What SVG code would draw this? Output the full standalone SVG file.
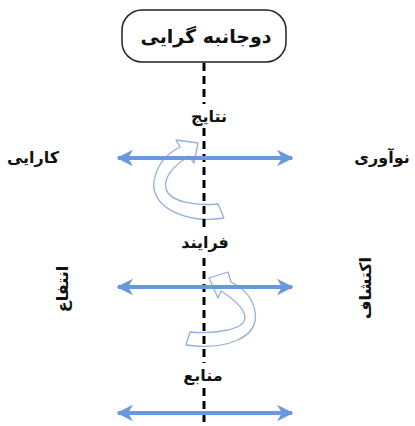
<svg xmlns="http://www.w3.org/2000/svg" width="415" height="426" viewBox="0 0 415 426">
<style>
.t{font-family:"DejaVu Sans",sans-serif;font-weight:bold;fill:#111;text-anchor:middle}
.h{stroke:#6a98de;stroke-width:4;fill:none}
.cv{fill:#fff;stroke:#93afdb;stroke-width:1.3;stroke-linejoin:round}
</style>
<defs>
<marker id="ah" viewBox="0 0 10 10" refX="9" refY="5" markerWidth="4.2" markerHeight="4.8" orient="auto-start-reverse" markerUnits="strokeWidth">
<path d="M0,0 L10,5 L0,10 L3,5 Z" fill="#6a98de"/>
</marker>
</defs>
<rect width="415" height="426" fill="#fff"/>
<g id="curved-arrows">
<path class="cv" d="M224,218 C188,224 150,208 154,181 C157,164 168,153 180,147 L176,140 L198,143 L194,163 L189,156 C175,165 163,177 166,189 C170,202 195,206 218,204 Z"/>
<path class="cv" d="M186,345 C222,350 260,340 255,311 C252,295 241,287 231,282 L228,272 L209,278 L218,298 L221,291 C232,298 245,308 245,318 C244,330 215,334 190,332 Z"/>
</g>
<g id="connectors">
<line x1="204" y1="63" x2="204" y2="422" stroke="#000" stroke-width="3" stroke-dasharray="8,5"/>
<line class="h" x1="118" y1="158" x2="292" y2="158" marker-start="url(#ah)" marker-end="url(#ah)"/>
<line class="h" x1="118" y1="287" x2="292" y2="287" marker-start="url(#ah)" marker-end="url(#ah)"/>
<line class="h" x1="118" y1="413" x2="292" y2="413" marker-start="url(#ah)" marker-end="url(#ah)"/>
</g>
<g id="title">
<rect x="122" y="10" width="164" height="52" rx="20" fill="#fff" stroke="#222" stroke-width="1.5"/>
<text class="t" x="206" y="43" font-size="19">دوجانبه گرایی</text>
</g>
<g id="n-results"><rect x="190" y="104" width="38" height="24" fill="#fff"/><text class="t" x="209" y="122" font-size="16">نتایج</text></g>
<g id="n-process"><rect x="182" y="230" width="46" height="24" fill="#fff"/><text class="t" x="205" y="248" font-size="16">فرایند</text></g>
<g id="n-resources"><rect x="181" y="363" width="44" height="24" fill="#fff"/><text class="t" x="203" y="381" font-size="16">منابع</text></g>
<g id="n-efficiency"><text class="t" x="33" y="163" font-size="16">کارایی</text></g>
<g id="n-innovation"><text class="t" x="382" y="163" font-size="16" font-weight="normal">نوآوری</text></g>
<g id="n-exploit"><text class="t" transform="translate(68,289) rotate(-90)" font-size="16">انتفاع</text></g>
<g id="n-explore"><text class="t" transform="translate(371,288) rotate(-90)" font-size="16">اکتشاف</text></g>
</svg>
